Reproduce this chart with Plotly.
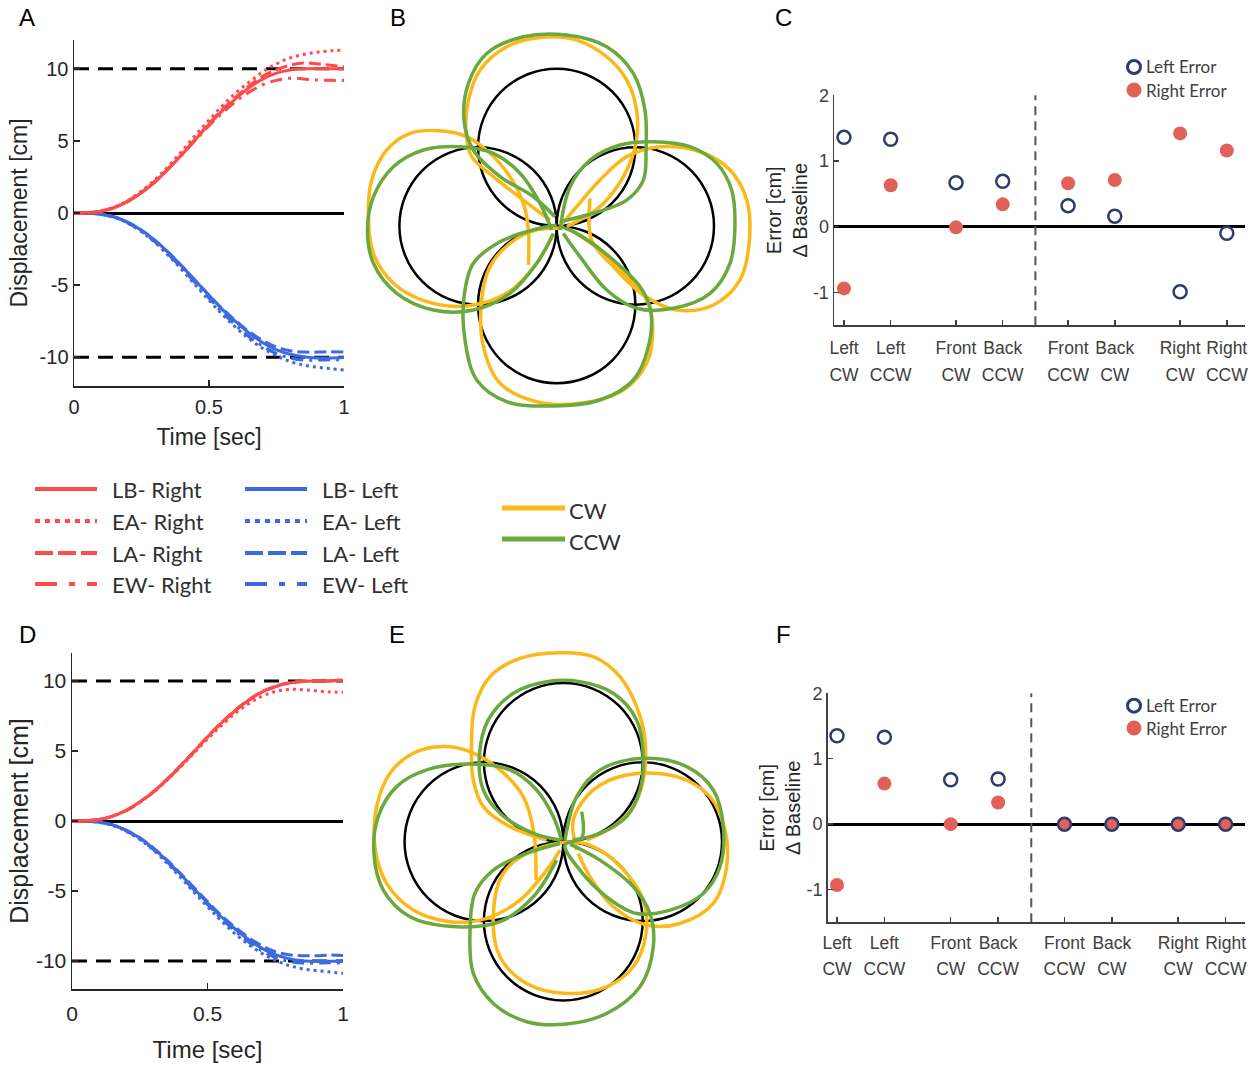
import plotly.graph_objects as go

W, H = 1251, 1065

# ---------------- data: time courses (panels A, D) ----------------
T = [0.00, 0.05, 0.10, 0.15, 0.20, 0.25, 0.30, 0.35, 0.40, 0.45, 0.50,
     0.55, 0.60, 0.65, 0.70, 0.75, 0.80, 0.85, 0.90, 0.95, 1.00]

A_LB_RIGHT = [0, 0.02, 0.12, 0.38, 0.80, 1.40, 2.15, 3.05, 4.05, 5.10, 6.15, 7.10, 7.95, 8.70, 9.30, 9.70, 9.92, 10.00, 10.02, 10.01, 10.00]
A_EA_RIGHT = [0, 0.02, 0.13, 0.42, 0.88, 1.52, 2.32, 3.25, 4.30, 5.40, 6.45, 7.45, 8.35, 9.10, 9.80, 10.35, 10.75, 11.00, 11.15, 11.25, 11.30]
A_LA_RIGHT = [0, 0.02, 0.12, 0.38, 0.82, 1.43, 2.20, 3.10, 4.10, 5.15, 6.20, 7.20, 8.05, 8.85, 9.50, 9.95, 10.25, 10.40, 10.35, 10.25, 10.15]
A_EW_RIGHT = [0, 0.02, 0.12, 0.40, 0.85, 1.45, 2.20, 3.10, 4.05, 5.05, 6.05, 6.95, 7.75, 8.40, 8.90, 9.20, 9.35, 9.30, 9.22, 9.20, 9.20]
A_LB_LEFT = [0, -0.01, -0.08, -0.28, -0.65, -1.20, -1.90, -2.75, -3.70, -4.70, -5.70, -6.70, -7.55, -8.35, -9.00, -9.50, -9.80, -9.97, -10.05, -10.05, -10.02]
A_EA_LEFT = [0, -0.01, -0.09, -0.32, -0.72, -1.30, -2.05, -2.95, -3.95, -5.00, -6.05, -7.05, -7.95, -8.75, -9.40, -9.90, -10.30, -10.55, -10.70, -10.80, -10.90]
A_LA_LEFT = [0, -0.01, -0.08, -0.28, -0.65, -1.20, -1.90, -2.75, -3.70, -4.70, -5.70, -6.65, -7.50, -8.25, -8.85, -9.30, -9.55, -9.65, -9.65, -9.62, -9.65]
A_EW_LEFT = [0, -0.01, -0.09, -0.30, -0.70, -1.27, -2.00, -2.88, -3.85, -4.88, -5.90, -6.90, -7.80, -8.60, -9.25, -9.75, -10.05, -10.20, -10.20, -10.18, -10.20]

D_LB_RIGHT = [0, 0.02, 0.10, 0.35, 0.75, 1.35, 2.08, 2.95, 3.92, 4.95, 6.00, 6.98, 7.85, 8.60, 9.20, 9.60, 9.85, 9.97, 10.00, 10.00, 10.05]
D_EA_RIGHT = [0, 0.02, 0.10, 0.35, 0.75, 1.33, 2.05, 2.90, 3.85, 4.85, 5.85, 6.80, 7.65, 8.35, 8.90, 9.25, 9.40, 9.38, 9.30, 9.22, 9.20]
D_LA_RIGHT = [0, 0.02, 0.10, 0.35, 0.76, 1.36, 2.10, 2.97, 3.95, 4.98, 6.02, 7.00, 7.88, 8.63, 9.23, 9.63, 9.88, 10.00, 10.03, 10.03, 10.08]
D_EW_RIGHT = [0, 0.02, 0.10, 0.34, 0.74, 1.34, 2.06, 2.93, 3.90, 4.93, 5.98, 6.96, 7.83, 8.58, 9.18, 9.58, 9.84, 9.96, 9.99, 10.00, 10.02]
D_LB_LEFT = [0, -0.01, -0.08, -0.28, -0.66, -1.22, -1.95, -2.82, -3.80, -4.82, -5.85, -6.82, -7.68, -8.45, -9.08, -9.55, -9.83, -9.98, -10.02, -10.02, -10.00]
D_EA_LEFT = [0, -0.01, -0.09, -0.32, -0.73, -1.32, -2.08, -3.00, -4.02, -5.08, -6.12, -7.12, -8.02, -8.80, -9.45, -9.95, -10.32, -10.55, -10.68, -10.78, -10.88]
D_LA_LEFT = [0, -0.01, -0.08, -0.28, -0.65, -1.20, -1.92, -2.78, -3.74, -4.75, -5.76, -6.72, -7.56, -8.30, -8.90, -9.33, -9.55, -9.62, -9.62, -9.58, -9.60]
D_EW_LEFT = [0, -0.01, -0.09, -0.30, -0.70, -1.28, -2.02, -2.92, -3.90, -4.93, -5.96, -6.95, -7.83, -8.62, -9.27, -9.75, -10.03, -10.15, -10.15, -10.13, -10.15]

TARGET_LEVELS = [10, -10]
CONDITIONS = ["LB", "EA", "LA", "EW"]

# ---------------- data: error panels (C, F) ----------------
CAT_POS = [1, 2, 3.4, 4.4, 5.8, 6.8, 8.2, 9.2]
CAT_TOP = ["Left", "Left", "Front", "Back", "Front", "Back", "Right", "Right"]
CAT_BOT = ["CW", "CCW", "CW", "CCW", "CCW", "CW", "CW", "CCW"]
DIVIDER_POS = 5.1
C_LEFT_ERR = [1.36, 1.33, 0.67, 0.69, 0.32, 0.16, -0.99, -0.10]
C_RIGHT_ERR = [-0.94, 0.63, -0.01, 0.34, 0.66, 0.71, 1.42, 1.16]
F_LEFT_ERR = [1.35, 1.33, 0.68, 0.69, 0.0, 0.0, 0.0, 0.0]
F_RIGHT_ERR = [-0.93, 0.62, 0.0, 0.33, 0.0, 0.0, 0.0, 0.0]

# ---------------- data: 2D trajectories (panels B, E), cm ----------------
TARGET_CENTERS = [(0, 5), (-5, 0), (5, 0), (0, -5)]
TARGET_RADIUS = 5

B_CW_TOP = [(0.64, -0.04), (2.75, 1.23), (4.24, 3.14), (5.04, 5.25), (5.08, 7.37), (4.45, 9.28), (3.18, 10.76), (1.27, 11.82), (-1.06, 11.99), (-3.18, 11.40), (-4.87, 9.92), (-5.61, 8.01), (-5.76, 5.89), (-5.40, 4.41), (-4.03, 3.14), (-2.12, 1.65), (-0.42, 0.38)]
B_CCW_TOP = [(0.21, 0.28), (2.33, 0.81), (4.45, 1.65), (5.51, 2.92), (5.68, 4.83), (5.61, 7.37), (4.87, 9.70), (3.18, 11.40), (0.64, 12.14), (-2.12, 12.03), (-4.45, 10.97), (-5.61, 9.07), (-5.89, 6.74), (-5.30, 4.83), (-3.60, 3.14), (-1.48, 1.86), (-0.11, 0.59)]
B_CW_LEFT = [(-1.80, -2.48), (-1.80, -0.25), (-2.12, 1.44), (-2.97, 3.14), (-4.24, 4.62), (-5.72, 5.68), (-7.42, 6.06), (-9.32, 5.89), (-10.81, 4.83), (-11.76, 2.92), (-11.97, 0.59), (-11.65, -1.74), (-10.38, -3.64), (-8.26, -4.81), (-5.72, -5.08), (-3.18, -4.28), (-1.27, -2.37), (-0.21, -0.47)]
B_CCW_LEFT = [(-0.32, -0.25), (-1.06, 1.44), (-2.33, 3.35), (-4.03, 4.62), (-6.14, 5.04), (-8.47, 4.83), (-10.38, 3.77), (-11.65, 1.86), (-12.03, -0.25), (-11.65, -2.37), (-10.17, -4.28), (-7.84, -5.34), (-5.30, -5.34), (-2.97, -4.28), (-1.27, -2.37), (-0.21, -0.47)]
B_CW_RIGHT = [(2.12, 1.76), (2.22, -0.89), (3.60, -2.58), (5.51, -4.39), (7.63, -5.34), (9.96, -5.02), (11.65, -3.43), (12.25, -0.89), (12.08, 1.65), (11.02, 3.56), (9.11, 4.72), (6.57, 5.04), (4.45, 4.41), (2.75, 2.92), (1.27, 1.23), (0.21, -0.04)]
B_CCW_RIGHT = [(0.21, -0.25), (0.85, 2.50), (2.12, 4.19), (4.03, 5.15), (6.14, 5.36), (8.47, 5.04), (10.17, 3.98), (11.12, 2.29), (11.33, -0.04), (11.02, -2.37), (9.75, -4.28), (7.42, -5.23), (5.08, -5.23), (3.18, -4.07), (1.48, -1.95), (0.42, -0.47)]
B_CW_BOTTOM = [(0.21, -0.15), (-1.27, -0.25), (-2.97, -1.10), (-4.24, -2.58), (-4.77, -4.70), (-4.66, -7.67), (-3.60, -10.00), (-1.27, -11.17), (1.48, -11.27), (4.24, -10.42), (5.72, -8.73), (6.10, -6.40), (5.72, -4.70), (4.45, -3.22), (2.75, -1.53), (1.06, -0.36)]
B_CCW_BOTTOM = [(0.00, 0.06), (-1.48, -0.25), (-3.60, -1.00), (-5.30, -2.37), (-5.89, -4.49), (-5.83, -7.25), (-5.08, -9.79), (-3.18, -11.17), (-0.21, -11.44), (2.75, -11.06), (4.87, -9.79), (5.83, -7.67), (5.97, -5.34), (5.30, -3.86), (3.60, -2.16), (1.27, -0.47), (0.21, -0.04)]

E_CW_TOP = [(1.47, 0.11), (3.15, 0.95), (4.41, 2.21), (5.04, 3.89), (5.15, 6.41), (4.62, 8.51), (3.57, 10.40), (1.89, 11.66), (-0.21, 11.91), (-2.73, 11.55), (-4.62, 10.40), (-5.57, 8.51), (-5.78, 6.41), (-5.67, 3.89), (-5.04, 2.21), (-3.36, 0.95), (-1.05, 0.11)]
E_CCW_TOP = [(0.63, 0.11), (2.31, 0.53), (3.99, 1.58), (4.83, 3.26), (5.04, 5.36), (4.62, 7.67), (3.15, 9.35), (1.05, 10.08), (-1.05, 10.08), (-3.15, 9.35), (-4.73, 7.67), (-5.29, 5.36), (-5.04, 3.26), (-3.99, 1.79), (-1.89, 0.53), (-0.21, 0.11)]
E_CW_LEFT = [(-1.72, -2.42), (-1.85, 0.53), (-2.52, 2.84), (-3.99, 4.52), (-5.88, 5.67), (-7.56, 5.99), (-9.45, 5.57), (-10.92, 4.31), (-11.76, 2.21), (-11.87, -0.32), (-11.13, -2.63), (-9.45, -4.31), (-7.14, -5.04), (-4.83, -4.83), (-2.73, -3.68), (-1.05, -1.79), (-0.21, -0.53)]
E_CCW_LEFT = [(-0.11, 0.11), (-0.63, 1.58), (-1.68, 3.26), (-3.36, 4.52), (-5.88, 4.89), (-8.61, 4.52), (-10.50, 3.47), (-11.66, 1.58), (-11.93, -0.74), (-11.34, -3.05), (-9.66, -4.73), (-6.72, -5.36), (-3.99, -5.04), (-1.89, -3.47), (-0.42, -1.16)]
E_CW_RIGHT = [(0.84, -0.53), (0.63, 1.37), (1.89, 3.26), (3.99, 4.20), (7.14, 4.10), (9.24, 2.84), (10.19, 0.74), (10.29, -1.58), (9.45, -3.89), (7.35, -5.15), (5.25, -5.25), (3.15, -4.10), (1.68, -2.21), (0.95, -0.74)]
E_CCW_RIGHT = [(0.11, 0.11), (0.84, 2.84), (2.31, 4.52), (5.04, 5.25), (7.77, 4.73), (9.45, 3.26), (10.08, 0.95), (9.87, -1.58), (8.82, -3.26), (6.72, -4.31), (4.62, -4.52), (2.73, -3.47), (1.05, -1.79), (0.11, -0.21), (1.16, 0.25), (1.16, 1.89)]
E_CW_BOTTOM = [(0.63, 0.00), (-2.31, -0.74), (-3.78, -2.00), (-4.41, -4.52), (-3.99, -7.25), (-2.31, -8.93), (0.21, -9.56), (2.73, -9.14), (4.41, -7.88), (5.21, -5.78), (5.04, -3.68), (3.99, -2.00), (2.31, -0.53), (0.63, 0.00)]
E_CCW_BOTTOM = [(-0.21, -0.11), (-2.31, -0.74), (-4.41, -1.79), (-5.57, -3.26), (-5.88, -5.78), (-5.67, -8.30), (-4.41, -10.19), (-2.31, -11.34), (0.21, -11.49), (2.73, -10.82), (4.83, -9.14), (5.67, -6.62), (5.46, -4.52), (4.41, -2.84), (2.31, -1.16), (0.42, -0.15)]

# ---------------- styles ----------------
RED = "#FF4B4B"
BLUE = "#3E6AE1"
YELLOW = "#FBB818"
GREEN = "#6BA93F"
NAVY = "#2D3C6C"
SALMON = "#E2605A"
AXC = "#262626"
GRAY = "#404040"
SANS = "Liberation Sans, Arial, sans-serif"
CAL = "Lato, Carlito, Calibri, sans-serif"
CURVE_DASH = {"LB": "solid", "EA": "3px,4px", "LA": "12px,5px", "EW": "12px,6px,3px,6px"}
LEG_DASH = {"LB": "solid", "EA": "5px,5px", "LA": "18px,5px", "EW": "22px,12px,6px,12px"}


def dom_x(a, b):
    return [a / W, b / W]


def dom_y(top, bottom):
    return [1 - bottom / H, 1 - top / H]


fig = go.Figure()


def add_time_panel(xa, ya, right_series, left_series):
    for lvl in TARGET_LEVELS:
        fig.add_trace(go.Scatter(x=[T[0], T[-1]], y=[lvl, lvl], mode="lines",
                                 line=dict(color="black", width=3, dash="15px,9px"),
                                 xaxis=xa, yaxis=ya, showlegend=False, hoverinfo="skip"))
    for cond, vals in zip(CONDITIONS, left_series):
        fig.add_trace(go.Scatter(x=T, y=vals, mode="lines", name=cond + "- Left",
                                 line=dict(color=BLUE, width=3, dash=CURVE_DASH[cond], shape="spline"),
                                 xaxis=xa, yaxis=ya, showlegend=False))
    for cond, vals in zip(CONDITIONS, right_series):
        fig.add_trace(go.Scatter(x=T, y=vals, mode="lines", name=cond + "- Right",
                                 line=dict(color=RED, width=3, dash=CURVE_DASH[cond], shape="spline"),
                                 xaxis=xa, yaxis=ya, showlegend=False))


add_time_panel("x", "y", [A_LB_RIGHT, A_EA_RIGHT, A_LA_RIGHT, A_EW_RIGHT],
               [A_LB_LEFT, A_EA_LEFT, A_LA_LEFT, A_EW_LEFT])
add_time_panel("x4", "y4", [D_LB_RIGHT, D_EA_RIGHT, D_LA_RIGHT, D_EW_RIGHT],
               [D_LB_LEFT, D_EA_LEFT, D_LA_LEFT, D_EW_LEFT])


def add_loops(xa, ya, loops, color, name):
    for pts in loops:
        fig.add_trace(go.Scatter(x=[p[0] for p in pts], y=[p[1] for p in pts], mode="lines",
                                 name=name, line=dict(color=color, width=3.5, shape="spline", smoothing=1.0),
                                 xaxis=xa, yaxis=ya, showlegend=False, hoverinfo="skip"))


add_loops("x2", "y2", [B_CW_TOP, B_CW_LEFT, B_CW_RIGHT, B_CW_BOTTOM], YELLOW, "CW")
add_loops("x2", "y2", [B_CCW_TOP, B_CCW_LEFT, B_CCW_RIGHT, B_CCW_BOTTOM], GREEN, "CCW")
add_loops("x5", "y5", [E_CW_TOP, E_CW_LEFT, E_CW_RIGHT, E_CW_BOTTOM], YELLOW, "CW")
add_loops("x5", "y5", [E_CCW_TOP, E_CCW_LEFT, E_CCW_RIGHT, E_CCW_BOTTOM], GREEN, "CCW")


def add_error_panel(xa, ya, xa2, left_err, right_err):
    fig.add_trace(go.Scatter(x=CAT_POS, y=right_err, mode="markers", name="Right Error",
                             marker=dict(symbol="circle", size=14, color=SALMON, line=dict(width=0)),
                             xaxis=xa, yaxis=ya, showlegend=False))
    fig.add_trace(go.Scatter(x=CAT_POS, y=left_err, mode="markers", name="Left Error",
                             marker=dict(symbol="circle-open", size=13, color=NAVY, line=dict(width=2.5)),
                             xaxis=xa, yaxis=ya, showlegend=False))
    # empty carrier so the second row of category labels gets drawn
    fig.add_trace(go.Scatter(x=[], y=[], mode="markers", xaxis=xa2, yaxis=ya,
                             showlegend=False, hoverinfo="skip"))


add_error_panel("x3", "y3", "x7", C_LEFT_ERR, C_RIGHT_ERR)
add_error_panel("x6", "y6", "x8", F_LEFT_ERR, F_RIGHT_ERR)

# ---------------- axes ----------------
base = dict(showgrid=False, showline=True, linecolor=AXC, linewidth=1.5, ticks="inside",
            ticklen=6, tickwidth=1.5, tickcolor=AXC, zeroline=False, fixedrange=True, automargin=False)


def time_axes(xdom, ydom, xanchor, yanchor, tick_off, title_off, tsize, ttl, ysize, ytl, ystand):
    xa = dict(base, domain=xdom, anchor=yanchor, range=[0, 1],
              tickvals=[0, 0.5, 1], ticktext=["0", "0.5", "1"], ticklabelstandoff=tick_off,
              tickfont=dict(family=SANS, size=tsize, color=AXC),
              title=dict(text="Time [sec]", font=dict(family=SANS, size=ttl, color=AXC), standoff=title_off))
    yy = dict(base, domain=ydom, anchor=xanchor, range=[-12, 12], tickvals=[-10, -5, 0, 5, 10],
              ticktext=["-10", "-5", "0", "5", "10"],
              tickfont=dict(family=SANS, size=ysize, color=AXC),
              zeroline=True, zerolinecolor="black", zerolinewidth=3,
              title=dict(text="Displacement [cm]", font=dict(family=SANS, size=ytl, color=AXC), standoff=ystand))
    return xa, yy


def err_axes(xdom, ydom, xr, xanchor, yanchor, top_off):
    xa = dict(base, domain=xdom, anchor=yanchor, range=xr, tickvals=CAT_POS,
              ticktext=CAT_TOP, tickangle=0, ticklabelstandoff=top_off,
              ticklen=5, linecolor=GRAY, tickcolor=GRAY,
              tickfont=dict(family=SANS, size=17.5, color=GRAY))
    yy = dict(base, domain=ydom, anchor=xanchor, range=[-1.5, 2], tickvals=[-1, 0, 1, 2],
              ticktext=["-1", "0", "1", "2"],
              ticklen=5, linecolor=GRAY, tickcolor=GRAY,
              tickfont=dict(family=SANS, size=18, color=GRAY),
              zeroline=True, zerolinecolor="black", zerolinewidth=3,
              title=dict(text="Error [cm]<br>\u0394 Baseline", font=dict(family=SANS, size=20, color=AXC), standoff=0))
    return xa, yy


def second_row_axis(overlay, yanchor, xr, off):
    # second line of the category tick labels (direction)
    return dict(overlaying=overlay, anchor=yanchor, side="bottom", range=xr, tickvals=CAT_POS,
                ticktext=CAT_BOT, tickangle=0, ticklabelstandoff=off, showline=False, ticks="",
                showgrid=False, zeroline=False, fixedrange=True, automargin=False,
                tickfont=dict(family=SANS, size=17.5, color=GRAY))


def hidden(dom, rng, anchor):
    return dict(domain=dom, range=rng, visible=False, fixedrange=True, anchor=anchor, automargin=False)


xA, yA = time_axes(dom_x(74, 344), dom_y(40, 386), "x", "y", 2, 12, 20, 23, 20, 23, 5)
xD, yD = time_axes(dom_x(72, 343), dom_y(653, 989), "x4", "y4", 5, 17, 21, 24, 21, 25, 0)
C_XR = [0.786, 9.59]
F_XR = [0.804, 9.61]
xC, yC = err_axes(dom_x(834, 1245), dom_y(95.3, 325.2), C_XR, "x3", "y3", 6)
xF, yF = err_axes(dom_x(827.7, 1245), dom_y(693.3, 922.3), F_XR, "x6", "y6", 4)

BR = [-12.6, 12.6]

fig.update_layout(
    width=W, height=H, autosize=False,
    margin=dict(l=0, r=0, t=0, b=0, pad=0, autoexpand=False),
    paper_bgcolor="white", plot_bgcolor="white",
    font=dict(family=SANS, color=AXC),
    showlegend=False,
    xaxis=xA, yaxis=yA,
    xaxis2=hidden(dom_x(358.5, 754.9), BR, "y2"), yaxis2=hidden(dom_y(27.8, 424.2), BR, "x2"),
    xaxis3=xC, yaxis3=yC,
    xaxis4=xD, yaxis4=yD,
    xaxis5=hidden(dom_x(363.3, 763.3), BR, "y5"), yaxis5=hidden(dom_y(641.7, 1041.7), BR, "x5"),
    xaxis6=xF, yaxis6=yF,
    xaxis7=second_row_axis("x3", "y3", C_XR, 37),
    xaxis8=second_row_axis("x6", "y6", F_XR, 34),
)

shapes = []
# target circles
for xr, yr in (("x2", "y2"), ("x5", "y5")):
    for cx, cy in TARGET_CENTERS:
        shapes.append(dict(type="circle", xref=xr, yref=yr, x0=cx - TARGET_RADIUS, x1=cx + TARGET_RADIUS,
                           y0=cy - TARGET_RADIUS, y1=cy + TARGET_RADIUS,
                           line=dict(color="black", width=2.5), layer="below"))
# divider lines
for xr, yr in (("x3", "y3"), ("x6", "y6")):
    shapes.append(dict(type="line", xref=xr, yref=yr + " domain", x0=DIVIDER_POS, x1=DIVIDER_POS, y0=0, y1=1,
                       line=dict(color="#4D5566", width=2, dash="9px,6px")))

annotations = []
# panel letters
for lab, (lx, ly) in zip("ABCDEF", [(27, 18), (398, 18), (784, 18), (27, 635), (397, 635), (783, 635)]):
    annotations.append(dict(text=lab, x=lx / W, y=1 - ly / H, xref="paper", yref="paper",
                            showarrow=False, font=dict(family=SANS, size=24, color="black"),
                            xanchor="center", yanchor="middle"))

# legend for time courses
rows = [489, 521, 553, 584]
for color, side, lx0, lx1, tx in ((RED, "Right", 35, 97, 110), (BLUE, "Left", 245, 307, 320)):
    for cond, ry in zip(CONDITIONS, rows):
        shapes.append(dict(type="line", xref="paper", yref="paper", x0=lx0 / W, x1=lx1 / W,
                           y0=1 - ry / H, y1=1 - ry / H, line=dict(color=color, width=4, dash=LEG_DASH[cond])))
        annotations.append(dict(text=cond + "- " + side, x=tx / W, y=1 - ry / H, xref="paper", yref="paper",
                                showarrow=False, xanchor="left", yanchor="middle",
                                font=dict(family=CAL, size=22, color="#303030")))
# legend for CW / CCW
for color, lab, ry in ((YELLOW, "CW", 510), (GREEN, "CCW", 541)):
    shapes.append(dict(type="line", xref="paper", yref="paper", x0=502 / W, x1=565 / W,
                       y0=1 - (ry - 2) / H, y1=1 - (ry - 2) / H, line=dict(color=color, width=5)))
    annotations.append(dict(text=lab, x=567 / W, y=1 - ry / H, xref="paper", yref="paper",
                            showarrow=False, xanchor="left", yanchor="middle",
                            font=dict(family=CAL, size=22, color="#303030")))
# legends for error panels
for y1, y2 in ((67, 90), (705.7, 728)):
    cx = 1134
    shapes.append(dict(type="circle", xref="paper", yref="paper", x0=(cx - 6.5) / W, x1=(cx + 6.5) / W,
                       y0=1 - (y1 + 6.5) / H, y1=1 - (y1 - 6.5) / H, line=dict(color=NAVY, width=3)))
    shapes.append(dict(type="circle", xref="paper", yref="paper", x0=(cx - 7.5) / W, x1=(cx + 7.5) / W,
                       y0=1 - (y2 + 7.5) / H, y1=1 - (y2 - 7.5) / H, fillcolor=SALMON, line=dict(width=0)))
    annotations.append(dict(text="Left Error", x=1144 / W, y=1 - y1 / H, xref="paper", yref="paper",
                            showarrow=False, xanchor="left", yanchor="middle",
                            font=dict(family=CAL, size=17, color="#404040")))
    annotations.append(dict(text="Right Error", x=1144 / W, y=1 - y2 / H, xref="paper", yref="paper",
                            showarrow=False, xanchor="left", yanchor="middle",
                            font=dict(family=CAL, size=17, color="#404040")))

fig.update_layout(shapes=shapes, annotations=annotations)

fig.write_html("out.html", config={"displayModeBar": False, "staticPlot": True},
               post_script="document.body.style.margin='0px';")
